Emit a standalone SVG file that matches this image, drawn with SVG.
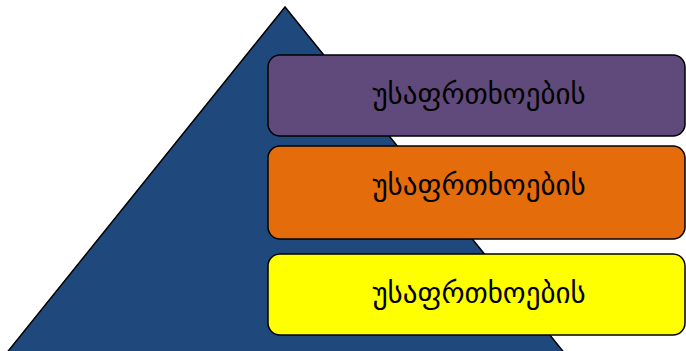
<svg xmlns="http://www.w3.org/2000/svg" width="686" height="351" viewBox="0 0 686 351">
<style>
.box{stroke:#000;stroke-width:1.5}
.t{font-family:"DejaVu Sans",sans-serif;font-size:29px;fill:#000;text-anchor:middle}
</style>
<rect width="686" height="351" fill="#fff"/>
<g id="pyramid"><polygon points="285,7 5,355 566,355" fill="#1F497D" stroke="#000" stroke-width="1.5"/></g>
<g id="level1"><rect class="box" x="268" y="55" width="417" height="81" rx="12" fill="#604A7B"/><text class="t" x="479" y="104">უსაფრთხოების</text></g>
<g id="level2"><rect class="box" x="268" y="146" width="417" height="93" rx="12" fill="#E46C0A"/><text class="t" x="479" y="195">უსაფრთხოების</text></g>
<g id="level3"><rect class="box" x="268" y="254" width="417" height="81" rx="12" fill="#FFFF00"/><text class="t" x="479" y="303">უსაფრთხოების</text></g>
<g id="connectors"></g>
</svg>
